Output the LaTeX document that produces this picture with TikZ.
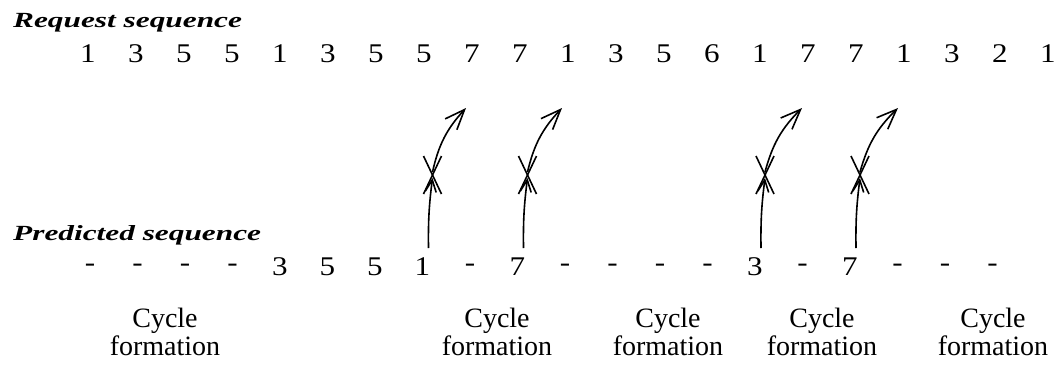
\documentclass[tikz,border=0pt]{standalone}
\usepackage{fontspec}
\setmainfont{Liberation Serif}
\usetikzlibrary{arrows.meta}
\newcommand\sd[1]{\scalebox{1.15}[1]{#1}}
\newcommand\pd{\raisebox{4pt}{-}}
\begin{document}
\begin{tikzpicture}[x=1pt,y=-1pt,
  dig/.style={inner sep=0pt,anchor=base,font=\fontsize{27}{30}\selectfont},
  lab/.style={inner sep=0pt,anchor=base west,font=\fontsize{21.6}{24}\selectfont\bfseries\itshape},
  cyc/.style={inner sep=0pt,anchor=base,font=\fontsize{28}{32}\selectfont},
  lowarr/.style={line width=1.6pt,-{Straight Barb[length=12pt,width=11pt]}},
  uparr/.style={line width=1.6pt,-{Straight Barb[length=20pt,width=16pt]}},
  xmark/.style={line width=1.6pt}]
\useasboundingbox (0,0) rectangle (1061,368);
% labels
\node[lab] (req) at (13,27) {\scalebox{1.45}[1]{Request sequence}};
\node[lab] (pred) at (13,240) {\scalebox{1.45}[1]{Predicted sequence}};
% request sequence
\foreach \v [count=\i] in {1,3,5,5,1,3,5,5,7,7,1,3,5,6,1,7,7,1,3,2,1}
  \node[dig] (r\i) at ({88+(\i-1)*48},62) {\sd{\v}};
% predicted sequence
\foreach \v [count=\i] in {\pd,\pd,\pd,\pd,3,5,5,1,\pd,7,\pd,\pd,\pd,\pd,3,\pd,7,\pd,\pd,\pd}
  \node[dig] (p\i) at ({90+(\i-1)*47.5},275) {\sd{\v}};
% cycle formation labels
\foreach \c [count=\k] in {165,497,668,822,993}{
  \node[cyc] (cy\k) at (\c,327) {Cycle};
  \node[cyc] (fo\k) at (\c,355) {formation};
}
% crossed-out arrows
\foreach \p/\r/\k in {8/9/1,10/11/2,15/16/3,17/18/4}{
  \coordinate (x\k) at ([shift={(10,-100)}]p\p.base);
  \draw[lowarr] ([shift={(6,-27)}]p\p.base) to[bend left=4] ([yshift=-3pt]x\k);
  \draw[xmark] ([shift={(-9,-19)}]x\k) -- ([shift={(9,19)}]x\k);
  \draw[xmark] ([shift={(9,-19)}]x\k) -- ([shift={(-9,19)}]x\k);
  \draw[uparr] ([yshift=3pt]x\k) to[bend left=15] ([shift={(-6,46)}]r\r.base);
}
\end{tikzpicture}
\end{document}
